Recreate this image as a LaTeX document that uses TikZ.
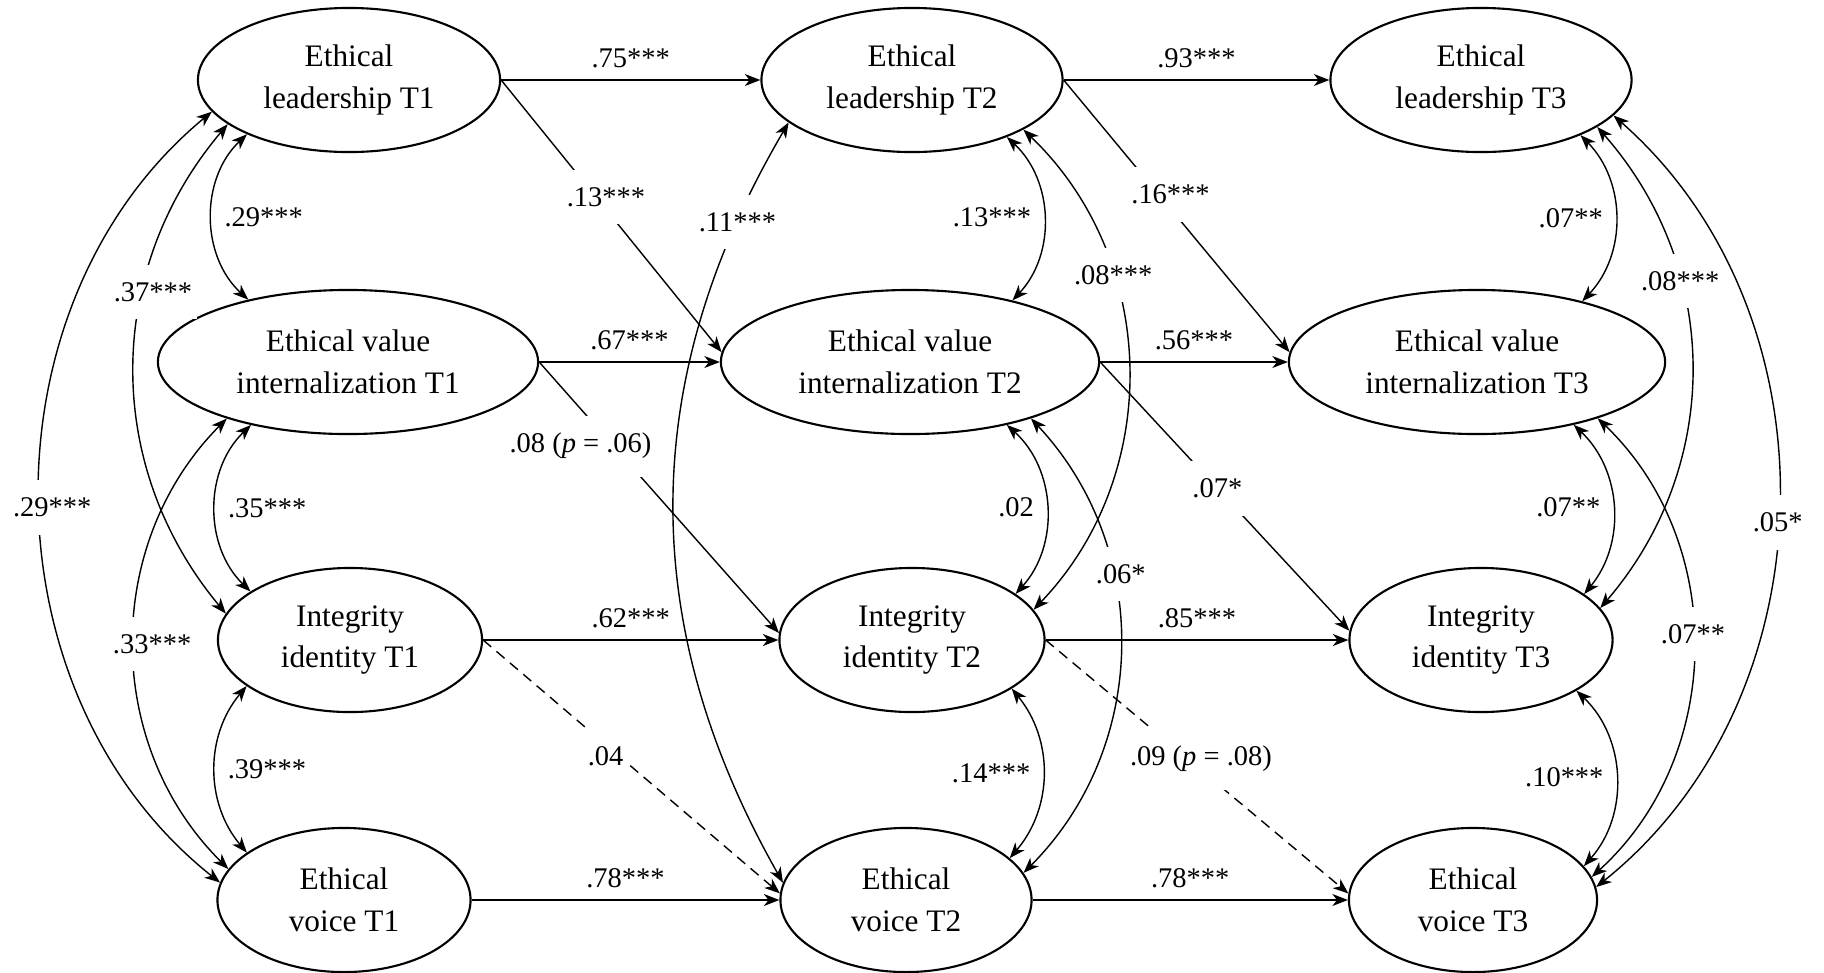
\documentclass[tikz,border=0pt]{standalone}
\usepackage{fontspec}
\setmainfont{Liberation Serif}
\usetikzlibrary{arrows.meta,shapes.geometric}

\begin{document}
\begin{tikzpicture}[x=0.01cm, y=0.01cm,
    >={Stealth[length=4.4pt,width=3.4pt,inset=1.3pt]},
    latent/.style={ellipse, draw, line width=0.6pt, minimum height=1.44cm, inner sep=0pt, align=center, font=\fontsize{8.9}{11.9}\selectfont},
    regr/.style={->, line width=0.4pt},
    covar/.style={<->, line width=0.4pt},
    coef/.style={font=\fontsize{8.1}{9.7}\selectfont},
    gap/.style={coef, fill=white, inner xsep=1.5pt, inner ysep=5pt}]

    \useasboundingbox (0,0) rectangle (1824,-972);

    % Nodes
    \node[latent, minimum width=3.02cm] (lead1) at (349,-80) {Ethical\\leadership T1};
    \node[latent, minimum width=3.80cm] (value1) at (348,-362) {Ethical value\\internalization T1};
    \node[latent, minimum width=2.64cm] (integ1) at (350,-640) {Integrity\\identity T1};
    \node[latent, minimum width=2.53cm] (voice1) at (344,-900) {Ethical\\voice T1};

    \node[latent, minimum width=3.01cm] (lead2) at (912,-80) {Ethical\\leadership T2};
    \node[latent, minimum width=3.78cm] (value2) at (910,-362) {Ethical value\\internalization T2};
    \node[latent, minimum width=2.65cm] (integ2) at (912,-640) {Integrity\\identity T2};
    \node[latent, minimum width=2.51cm] (voice2) at (906,-900) {Ethical\\voice T2};

    \node[latent, minimum width=3.01cm] (lead3) at (1481,-80) {Ethical\\leadership T3};
    \node[latent, minimum width=3.76cm] (value3) at (1477,-362) {Ethical value\\internalization T3};
    \node[latent, minimum width=2.63cm] (integ3) at (1481,-640) {Integrity\\identity T3};
    \node[latent, minimum width=2.48cm] (voice3) at (1473,-900) {Ethical\\voice T3};

    % Stability paths
    \draw[regr] (lead1) -- node[coef, above] {.75***} (lead2);
    \draw[regr] (lead2) -- node[coef, above] {.93***} (lead3);
    \draw[regr] (value1) -- node[coef, above] {.67***} (value2);
    \draw[regr] (value2) -- node[coef, above] {.56***} (value3);
    \draw[regr] (integ1) -- node[coef, above] {.62***} (integ2);
    \draw[regr] (integ2) -- node[coef, above] {.85***} (integ3);
    \draw[regr] (voice1) -- node[coef, above] {.78***} (voice2);
    \draw[regr] (voice2) -- node[coef, above] {.78***} (voice3);

    % Cross-lagged paths
    \draw[regr] (lead1.east) -- node[gap, pos=.43, xshift=0.1cm] {.13***} (value2.177);
    \draw[regr] (lead2.east) -- node[gap, pos=.42, xshift=0.12cm] {.16***} (value3.177);
    \draw[regr] (value1.east) -- node[gap, pos=.31, xshift=-0.33cm] {.08 (\textit{p} = .06)} (integ2.177);
    \draw[regr] (value2.east) -- node[gap, pos=.47] {.07*} (integ3.176);
    \draw[regr, dash pattern=on 3pt off 2pt] (integ1.east) -- node[gap, pos=.46, xshift=-0.14cm] {.04} (voice2.177);
    \draw[regr, dash pattern=on 3pt off 2pt] (integ2.east) -- node[gap, pos=.47, xshift=0.13cm] {.09 (\textit{p} = .08)} (voice3.177);

    % T1 covariances
    \draw[covar] (lead1.208) to[bend right=47] node[coef, right] {.29***} (value1.148);
    \draw[covar] (value1.213) to[bend right=46] node[coef, right] {.35***} (integ1.154);
    \draw[covar] (integ1.204) to[bend right=40] node[coef, right] {.39***} (voice1.154);
    \draw[covar] (lead1.200) to[bend right=40] node[gap, pos=.35, xshift=0.1cm] {.37***} (integ1.168);
    \draw[covar] (value1.205) to[bend right=45] node[gap, xshift=0.18cm] {.33***} (voice1.165);
    \draw[covar] (lead1.193) to[bend right=51] node[gap, pos=.51, xshift=0.12cm] {.29***} (voice1.172);

    % T2 covariances
    \draw[covar] (lead2.329) to[bend left=45] node[coef, left] {.13***} (value2.31);
    \draw[covar] (value2.327) to[bend left=45] node[coef, left] {.02} (integ2.24);
    \draw[covar] (integ2.334) to[bend left=40] node[coef, left] {.14***} (voice2.22);
    \draw[covar] (lead2.336) to[bend left=45] node[gap, pos=.32] {.08***} (integ2.14);
    \draw[covar] (value2.335) to[bend left=44] node[gap, pos=.35, xshift=0.08cm] {.06*} (voice2.13);
    \draw[covar] (lead2.199) to[bend right=30] node[gap, pos=.13] {.11***} (voice2.172);

    % T3 covariances
    \draw[covar] (lead3.331) to[bend left=44] node[coef, left] {.07**} (value3.30);
    \draw[covar] (value3.327) to[bend left=43] node[coef, left] {.07**} (integ3.24);
    \draw[covar] (integ3.332) to[bend left=44] node[coef, left] {.10***} (voice3.17);
    \draw[covar] (lead3.338) to[bend left=41] node[gap, pos=.33] {.08***} (integ3.15);
    \draw[covar] (value3.335) to[bend left=47] node[gap, pos=.47] {.07**} (voice3.11);
    \draw[covar] (lead3.345) to[bend left=50] node[gap, pos=.52] {.05*} (voice3.6);
\end{tikzpicture}
\end{document}
